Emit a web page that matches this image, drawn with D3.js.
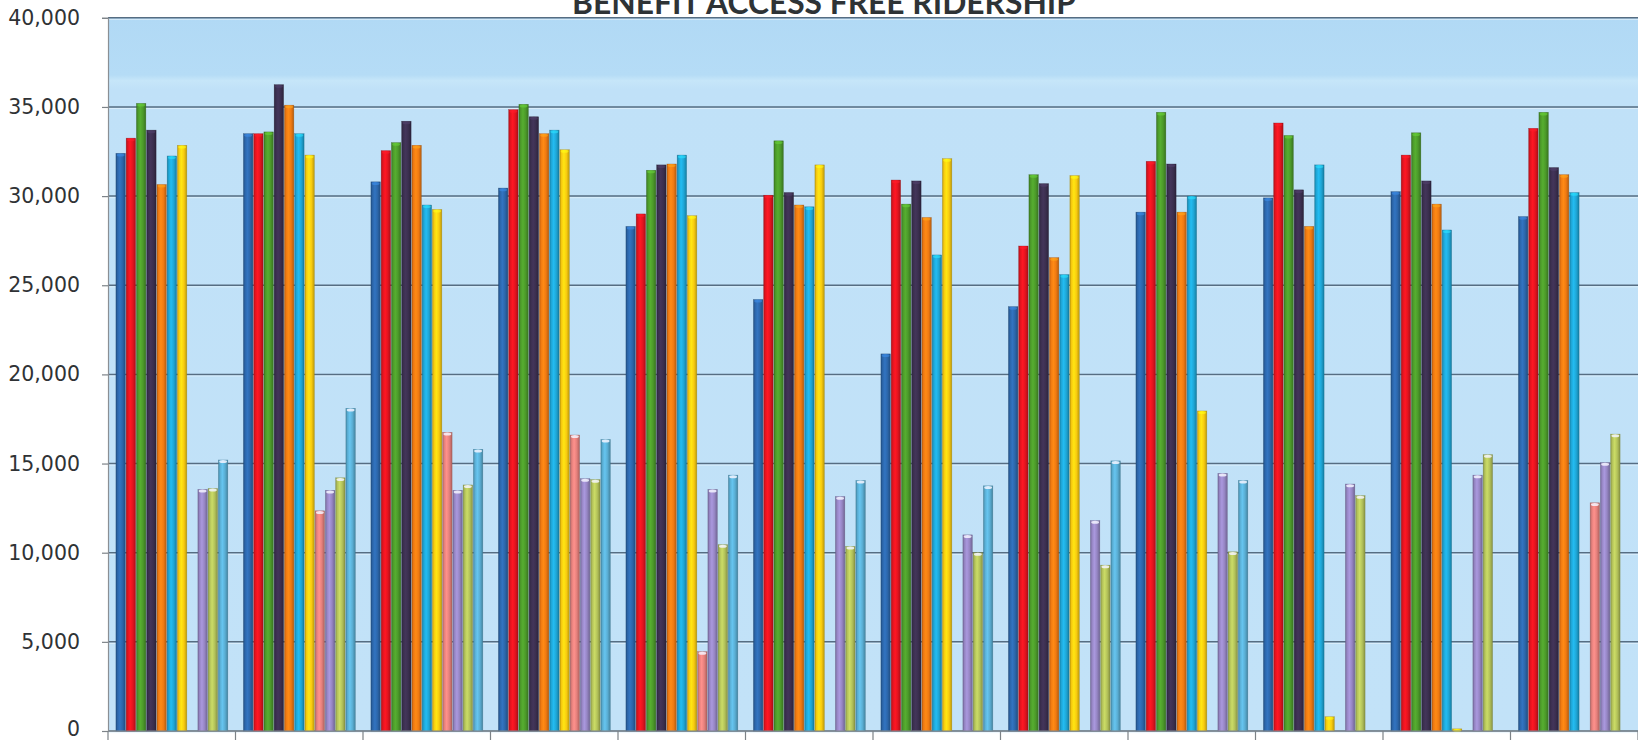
<!DOCTYPE html>
<html>
<head>
<meta charset="utf-8">
<script src="https://cdn.jsdelivr.net/npm/d3@7"></script>
<style>
  html, body { margin: 0; padding: 0; background: #ffffff; overflow: hidden; }
  svg { display: block; }
</style>
</head>
<body>
<svg id="chart" width="1638" height="741"></svg>
<script>
// Monthly ridership, one bar per year within each month
const categories = ["Jan", "Feb", "Mar", "Apr", "May", "Jun", "Jul", "Aug", "Sep", "Oct", "Nov", "Dec"];
const seriesNames = ["Year 1", "Year 2", "Year 3", "Year 4", "Year 5", "Year 6", "Year 7", "Year 8", "Year 9", "Year 10", "Year 11"];
const seriesColors = ["#2c66aa", "#e2141f", "#4c9a2a", "#3b2f4f", "#f07a12", "#1fa6d6", "#f8cb10", "#e5807c", "#9686c4", "#b3c25a", "#5aaed4"];

// values per series, Jan..Dec (null = no bar)
const year1  = [32400, 33500, 30800, 30450, 28300, 24200, 21150, 23800, 29100, 29900, 30250, 28850];
const year2  = [33250, 33500, 32550, 34850, 29000, 30050, 30900, 27200, 31950, 34100, 32300, 33800];
const year3  = [35200, 33600, 33000, 35150, 31450, 33100, 29550, 31200, 34700, 33400, 33550, 34700];
const year4  = [33700, 36250, 34200, 34450, 31750, 30200, 30850, 30700, 31800, 30350, 30850, 31600];
const year5  = [30650, 35100, 32850, 33500, 31800, 29500, 28800, 26550, 29100, 28300, 29550, 31200];
const year6  = [32250, 33500, 29500, 33700, 32300, 29400, 26700, 25600, 30000, 31750, 28100, 30200];
const year7  = [32850, 32300, 29250, 32600, 28900, 31750, 32100, 31150, 17950, 800, 120, null];
const year8  = [null, 12350, 16750, 16600, 4450, null, null, null, null, null, null, 12800];
const year9  = [13550, 13500, 13500, 14150, 13550, 13150, 11000, 11800, 14450, 13850, 14350, 15050];
const year10 = [13600, 14200, 13800, 14100, 10450, 10350, 10000, 9300, 10050, 13200, 15500, 16650];
const year11 = [15200, 18100, 15800, 16350, 14350, 14050, 13750, 15150, 14050, null, null, null];

const seriesValues = [year1, year2, year3, year4, year5, year6, year7, year8, year9, year10, year11];
const yTicks = [0, 5000, 10000, 15000, 20000, 25000, 30000, 35000, 40000];
const chartTitle = "BENEFIT ACCESS FREE RIDERSHIP";

const W = 1638, H = 741;
const plot = { left: 108, right: 1638, top: 17.8, bottom: 731 };

const svg = d3.select("#chart");
const defs = svg.append("defs");

const y = d3.scaleLinear().domain([0, 40000]).range([plot.bottom, plot.top]);
const x0 = d3.scaleBand().domain(categories).range([plot.left, plot.right]).padding(0);
const groupOffset = x0.bandwidth() * 0.059;
const groupWidth = x0.bandwidth() * 0.884;
const x1 = d3.scaleBand().domain(seriesNames).range([groupOffset, groupOffset + groupWidth]).padding(0);

// plot background: pale sky blue with a slightly deeper band along the top
const bgGrad = defs.append("linearGradient").attr("id", "bg").attr("x1", 0).attr("y1", 0).attr("x2", 0).attr("y2", 1);
[[0, "#b1d9f5"], [0.08, "#b5dcf6"], [0.088, "#c6e6f9"], [0.1, "#c0e1f8"], [1, "#c2e2f8"]]
  .forEach(([o, c]) => bgGrad.append("stop").attr("offset", o).attr("stop-color", c));
svg.append("rect")
  .attr("x", plot.left).attr("y", plot.top)
  .attr("width", plot.right - plot.left).attr("height", plot.bottom - plot.top)
  .attr("fill", "url(#bg)");

// horizontal gridlines
const grid = svg.append("g");
yTicks.forEach(t => {
  grid.append("line")
    .attr("x1", plot.left).attr("x2", plot.right)
    .attr("y1", y(t)).attr("y2", y(t))
    .attr("stroke", "#566d82").attr("stroke-width", 1.5);
  grid.append("line")
    .attr("x1", plot.left).attr("x2", plot.right)
    .attr("y1", y(t) + 1.6).attr("y2", y(t) + 1.6)
    .attr("stroke", "#e6f4fd").attr("stroke-width", 1).attr("opacity", 0.7);
});

// cylinder-like shading for each series
seriesColors.forEach((c, i) => {
  const g = defs.append("linearGradient").attr("id", "bar" + i).attr("x1", 0).attr("x2", 1).attr("y1", 0).attr("y2", 0);
  const base = d3.color(c);
  [[0, base.darker(0.7)], [0.18, base], [0.42, base.brighter(0.35)], [0.7, base], [1, base.darker(0.8)]]
    .forEach(([o, col]) => g.append("stop").attr("offset", o).attr("stop-color", col.formatHex()));
});

// bars
const bars = svg.append("g");
categories.forEach((cat, ci) => {
  const grp = bars.append("g").attr("transform", `translate(${x0(cat)},0)`);
  seriesNames.forEach((s, si) => {
    const v = seriesValues[si][ci];
    if (v == null || v <= 0) return;
    const bx = x1(s), bw = x1.bandwidth();
    grp.append("rect")
      .attr("x", bx + 0.4).attr("y", y(v))
      .attr("width", bw - 0.8).attr("height", y(0) - y(v))
      .attr("fill", `url(#bar${si})`)
      .attr("stroke", d3.color(seriesColors[si]).darker(1.2).formatHex())
      .attr("stroke-width", 0.5).attr("stroke-opacity", 0.6);
    grp.append("ellipse")
      .attr("cx", bx + bw / 2).attr("cy", y(v) + 1.6)
      .attr("rx", bw / 2 - 1.2).attr("ry", 1.5)
      .attr("fill", si >= 7 ? "#f4f4ff" : d3.color(seriesColors[si]).brighter(0.9).formatHex())
      .attr("opacity", si >= 7 ? 0.85 : 0.6);
  });
});

// y axis
const yAxis = d3.axisLeft(y).tickValues(yTicks).tickSize(6).tickPadding(22)
  .tickFormat(d3.format(","));
const ya = svg.append("g").attr("transform", `translate(${plot.left},0)`).call(yAxis);
ya.select(".domain").attr("stroke", "#8a8f94").attr("stroke-width", 1.2);
ya.selectAll(".tick line").attr("stroke", "#7d8388").attr("stroke-width", 1.2);
ya.selectAll(".tick text")
  .attr("font-family", "'DejaVu Sans', Verdana, sans-serif")
  .attr("font-size", 20.5).attr("fill", "#2f3235")
  .attr("dy", d => d === 0 ? "0.2em" : "0.32em");

// x axis: boundaries between months
const boundaries = d3.range(categories.length + 1).map(i => plot.left + i * x0.bandwidth());
const xa = svg.append("g");
xa.append("line")
  .attr("x1", plot.left).attr("x2", plot.right)
  .attr("y1", plot.bottom).attr("y2", plot.bottom)
  .attr("stroke", "#8a8f94").attr("stroke-width", 1.2);
xa.selectAll("line.tick").data(boundaries).join("line").attr("class", "tick")
  .attr("x1", d => d).attr("x2", d => d)
  .attr("y1", plot.bottom).attr("y2", plot.bottom + 9)
  .attr("stroke", "#7d8388").attr("stroke-width", 1.2);

// title, partly above the top edge
const title = svg.append("text")
  .attr("x", 824).attr("y", 13.5)
  .attr("text-anchor", "middle")
  .attr("font-family", "Lato, 'Liberation Sans', Arial, sans-serif")
  .attr("font-weight", "bold")
  .attr("font-size", 28)
  .attr("fill", "#2e3336")
  .text(chartTitle);
const tw = title.node().getComputedTextLength();
title.attr("font-size", 28 * 504 / tw);
</script>
</body>
</html>
